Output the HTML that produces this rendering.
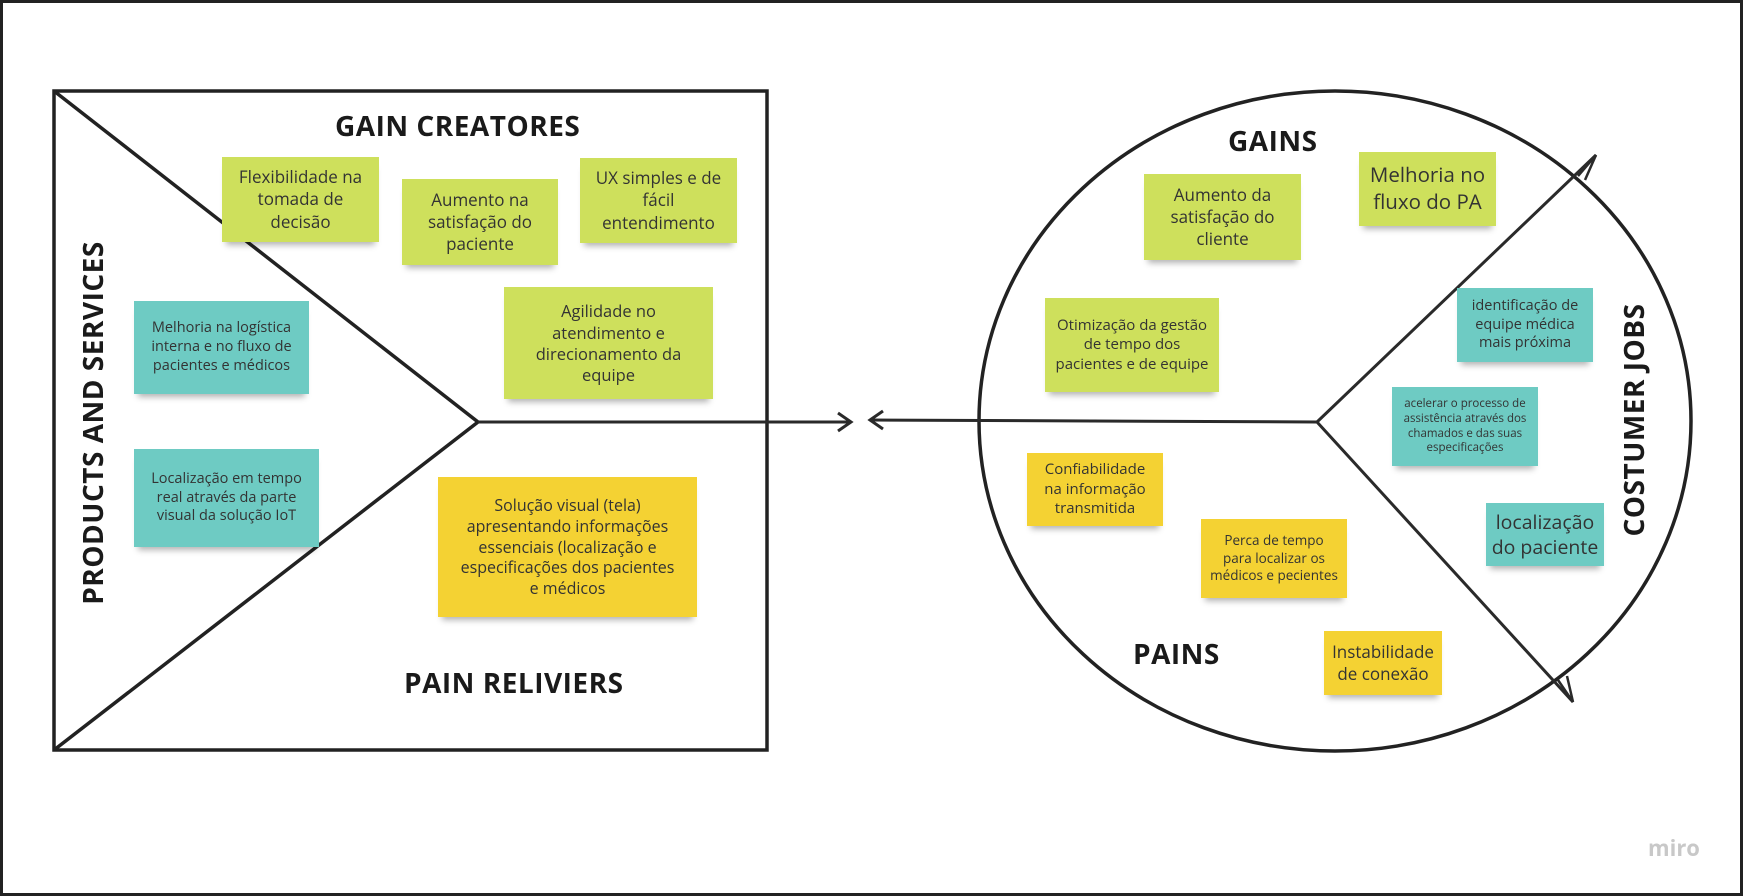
<!DOCTYPE html>
<html><head><meta charset="utf-8"><style>
html,body{margin:0;padding:0;}
body{width:1743px;height:896px;position:relative;background:#fff;overflow:hidden;font-family:"Open Sans","Liberation Sans",sans-serif;color:#333;}
.frame{position:absolute;left:0;top:0;width:1737px;height:890px;border:3px solid #222;}
.s{position:absolute;display:flex;align-items:center;justify-content:center;text-align:center;box-sizing:border-box;padding:4px 14px;line-height:1.3;box-shadow:0 7px 6px -4px rgba(0,0,0,0.3);}
.g{background:#cee05c;}
.y{background:#f4d233;}
.t{background:#6ecbc3;}
.h{position:absolute;font-weight:bold;color:#1a1a1a;font-size:28px;white-space:nowrap;letter-spacing:0.5px;}
</style></head><body>
<div class="frame"></div>
<svg width="1743" height="896" style="position:absolute;left:0;top:0">
<g fill="none" stroke="#222" stroke-width="3.5">
<rect x="54" y="91" width="713" height="659"/>
<polyline points="54,91 478,422 54,750"/>
<ellipse cx="1335" cy="421" rx="356" ry="330"/>
</g>
<g stroke="#2a2a2a" stroke-width="3" fill="none">
<line x1="478" y1="422" x2="850" y2="422"/>
<polyline points="838,413 851,422 838,431"/>
<line x1="1317" y1="422" x2="872" y2="420"/>
<polyline points="883,411 870,420 883,429"/>
<line x1="1317" y1="422" x2="1596" y2="155"/>
<line x1="1317" y1="422" x2="1573" y2="702"/>
<path d="M1578,176 L1596,155 L1585,180" stroke-width="2.5"/>
<path d="M1558,680 L1573,702 L1567,676" stroke-width="2.5"/>
</g>
</svg>
<div class="h" style="left:335px;top:107px;">GAIN CREATORES</div>
<div class="h" style="left:404px;top:664px;">PAIN RELIVIERS</div>
<div class="h" style="left:93px;top:423px;transform:translate(-50%,-50%) rotate(-90deg);">PRODUCTS AND SERVICES</div>
<div class="h" style="left:1228px;top:122px;">GAINS</div>
<div class="h" style="left:1133px;top:635px;">PAINS</div>
<div class="h" style="left:1634px;top:420px;transform:translate(-50%,-50%) rotate(-90deg);">COSTUMER JOBS</div>
<div style="position:absolute;left:1648px;top:833px;font-size:22px;font-weight:bold;color:#c8c8c8;">miro</div>

<div class="s g" style="left:222px;top:157px;width:157px;height:85px;font-size:17px;">Flexibilidade na tomada de decisão</div>
<div class="s g" style="left:402px;top:179px;width:156px;height:86px;font-size:17px;padding:4px 16px;">Aumento na satisfação do paciente</div>
<div class="s g" style="left:580px;top:158px;width:157px;height:85px;font-size:17px;padding:4px 12px;">UX simples e de fácil entendimento</div>
<div class="s g" style="left:504px;top:287px;width:209px;height:112px;font-size:16.5px;padding:4px 24px;">Agilidade no atendimento e direcionamento da equipe</div>
<div class="s t" style="left:134px;top:301px;width:175px;height:93px;font-size:14.5px;padding:4px 10px;">Melhoria na logística interna e no fluxo de pacientes e médicos</div>
<div class="s t" style="left:134px;top:449px;width:185px;height:98px;font-size:14.5px;padding:4px 12px;">Localização em tempo real através da parte visual da solução IoT</div>
<div class="s y" style="left:438px;top:477px;width:259px;height:140px;font-size:16px;padding:4px 18px;">Solução visual (tela) apresentando informações essenciais (localização e especificações dos pacientes e médicos</div>

<div class="s g" style="left:1144px;top:174px;width:157px;height:86px;font-size:17px;padding:4px 20px;">Aumento da satisfação do cliente</div>
<div class="s g" style="left:1359px;top:152px;width:137px;height:74px;font-size:20.5px;padding:4px 8px;">Melhoria no fluxo do PA</div>
<div class="s g" style="left:1045px;top:298px;width:174px;height:94px;font-size:15px;padding:4px 8px;">Otimização da gestão de tempo dos pacientes e de equipe</div>
<div class="s t" style="left:1457px;top:288px;width:136px;height:74px;font-size:14.5px;padding:4px 6px;">identificação de equipe médica mais próxima</div>
<div class="s t" style="left:1392px;top:387px;width:146px;height:79px;font-size:11.5px;padding:4px 6px;">acelerar o processo de assistência através dos chamados e das suas especificações</div>
<div class="s t" style="left:1486px;top:503px;width:118px;height:63px;font-size:19.5px;line-height:1.25;padding:2px;">localização do paciente</div>
<div class="s y" style="left:1027px;top:453px;width:136px;height:73px;font-size:15px;padding:4px 14px;">Confiabilidade na informação transmitida</div>
<div class="s y" style="left:1201px;top:519px;width:146px;height:79px;font-size:13.5px;padding:2px;">Perca de tempo<br>para localizar os<br>médicos e pecientes</div>
<div class="s y" style="left:1324px;top:631px;width:118px;height:64px;font-size:17px;padding:2px;">Instabilidade de conexão</div>
</body></html>
